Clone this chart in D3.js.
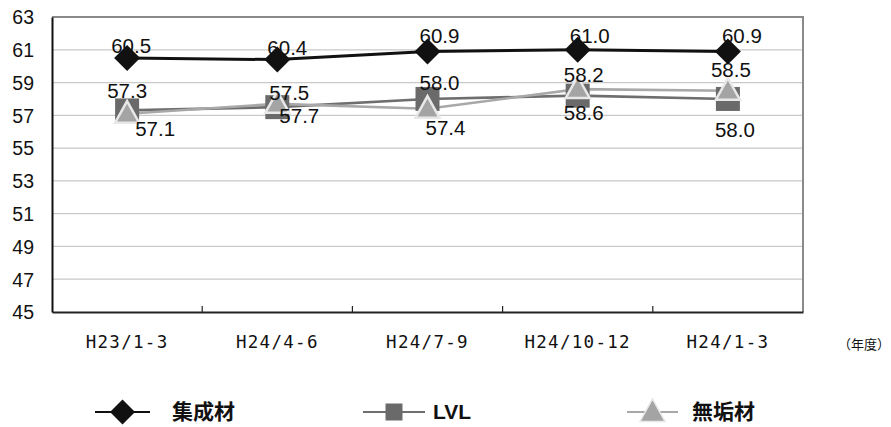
<!DOCTYPE html>
<html>
<head>
<meta charset="utf-8">
<script src="https://cdn.jsdelivr.net/npm/d3@7"></script>
<style>
  body { margin: 0; background: #fff; }
  svg { display: block; }
  .num { font-family: "Liberation Sans", Arial, sans-serif; font-size: 20.5px; fill: #111; }
  .ytick { font-family: "Liberation Sans", Arial, sans-serif; font-size: 19.5px; fill: #111; }
  .xtick { font-family: "DejaVu Sans Mono", monospace; font-size: 17.5px; fill: #111; letter-spacing: 1.3px; }
  .legend { font-family: "Noto Sans CJK JP", sans-serif; font-size: 21px; font-weight: bold; fill: #111; }
  .unit { font-family: "Noto Sans CJK JP", sans-serif; font-size: 13px; fill: #111; }
</style>
</head>
<body>
<div id="chart"></div>
<script>
const categories = ['H23/1-3', 'H24/4-6', 'H24/7-9', 'H24/10-12', 'H24/1-3']
const yTicks = [45, 47, 49, 51, 53, 55, 57, 59, 61, 63]

const shuseizai = [60.5, 60.4, 60.9, 61.0, 60.9]
const lvl = [57.3, 57.5, 58.0, 58.2, 58.0]
const mukuzai = [57.1, 57.7, 57.4, 58.6, 58.5]

// where each value label sits relative to its marker
const labelOffsets = {
    shuseizai: [[4, -5], [10, -5], [12, -8], [12, -7], [14, -8]],
    lvl: [[0, -12], [12, -7], [12, -9], [6, -14], [7, 38]],
    mukuzai: [[28, 22], [22, 19], [18, 26], [6, 31], [3, -14]]
}

const series = [
    { key: 'shuseizai', label: '集成材', values: shuseizai, line: '#111', fill: '#111', stroke: 'none', shape: 'diamond' },
    { key: 'lvl', label: 'LVL', values: lvl, line: '#6e6e6e', fill: '#6a6a6a', stroke: 'none', shape: 'square' },
    { key: 'mukuzai', label: '無垢材', values: mukuzai, line: '#a8a8a8', fill: '#a4a4a4', stroke: '#e8e8e8', shape: 'triangle' }
]

const width = 891, height = 427
const margin = { left: 52, right: 88, top: 17, bottom: 115 }

const svg = d3.select('#chart').append('svg')
    .attr('width', width)
    .attr('height', height)

const x = d3.scaleBand()
    .domain(categories)
    .range([margin.left, width - margin.right])

const y = d3.scaleLinear()
    .domain([45, 63])
    .range([height - margin.bottom, margin.top])

const x0 = margin.left, x1 = width - margin.right
const yTop = y(63), yBot = y(45)

// gridlines
svg.append('g').selectAll('line')
    .data(yTicks.filter(d => d > 45 && d < 63))
    .enter().append('line')
    .attr('x1', x0).attr('x2', x1)
    .attr('y1', d => y(d)).attr('y2', d => y(d))
    .style('stroke', '#c9c9c9')
    .style('stroke-width', 1.2)

// frame: top + right grey
svg.append('path')
    .attr('d', `M${x0},${yTop}H${x1}V${yBot}`)
    .style('fill', 'none')
    .style('stroke', '#8a8a8a')
    .style('stroke-width', 2)

// y axis
const yAxis = svg.append('g')
    .attr('transform', `translate(${x0},0)`)
    .call(d3.axisLeft(y).tickValues(yTicks).tickSize(0).tickPadding(18))
yAxis.select('.domain').style('stroke', '#111').style('stroke-width', 2)
yAxis.selectAll('text').attr('class', 'ytick').attr('dy', '0.35em')

// x axis
const xAxis = svg.append('g')
    .attr('transform', `translate(0,${yBot})`)
    .call(d3.axisBottom(x).tickSize(0).tickPadding(0))
xAxis.select('.domain').style('stroke', '#222').style('stroke-width', 2)
xAxis.selectAll('text').attr('class', 'xtick').attr('y', 36).attr('dy', 0)

// category separators
xAxis.selectAll('.sep')
    .data(categories.slice(1))
    .enter().append('line')
    .attr('class', 'sep')
    .attr('x1', d => x(d)).attr('x2', d => x(d))
    .attr('y1', 0).attr('y2', -6)
    .style('stroke', '#222')
    .style('stroke-width', 1.2)

svg.append('text')
    .attr('class', 'unit')
    .attr('x', 864)
    .attr('y', 349)
    .attr('text-anchor', 'middle')
    .text('（年度）')

const cx = d => x(d) + x.bandwidth() / 2

const symbolPath = (shape, s) => {
    if (shape === 'diamond') return `M0,${-s}L${s},0L0,${s}L${-s},0Z`
    if (shape === 'square') return `M${-s},${-s}H${s}V${s}H${-s}Z`
    return `M0,${-s * 1.05}L${s},${s * 0.75}H${-s}Z`
}

const line = d3.line()
    .x((d, i) => cx(categories[i]))
    .y(d => y(d))

series.forEach(s => {
    svg.append('path')
        .datum(s.values)
        .attr('d', line)
        .style('fill', 'none')
        .style('stroke', s.line)
        .style('stroke-width', s.key === 'shuseizai' ? 3 : 2.6)
})

const markerSize = { diamond: 13, square: 12, triangle: 12 }

series.forEach(s => {
    svg.append('g').selectAll('path')
        .data(s.values)
        .enter().append('path')
        .attr('transform', (d, i) => `translate(${cx(categories[i])},${y(d)})`)
        .attr('d', symbolPath(s.shape, markerSize[s.shape]))
        .style('fill', s.fill)
        .style('stroke', s.stroke)
        .style('stroke-width', 2.5)
})

// value labels
series.forEach(s => {
    svg.append('g').selectAll('text')
        .data(s.values)
        .enter().append('text')
        .attr('class', 'num')
        .attr('text-anchor', 'middle')
        .attr('x', (d, i) => cx(categories[i]) + labelOffsets[s.key][i][0])
        .attr('y', (d, i) => y(d) + labelOffsets[s.key][i][1])
        .text(d => d.toFixed(1))
})

// legend
const legendItems = [
    { s: series[0], lx: 95, lw: 55, tx: 172 },
    { s: series[1], lx: 363, lw: 62, tx: 433 },
    { s: series[2], lx: 627, lw: 51, tx: 692 }
]
const ly = 412

const legend = svg.append('g').selectAll('g')
    .data(legendItems)
    .enter().append('g')

legend.append('line')
    .attr('x1', d => d.lx).attr('x2', d => d.lx + d.lw)
    .attr('y1', ly).attr('y2', ly)
    .style('stroke', d => d.s.line)
    .style('stroke-width', 2)

legend.append('path')
    .attr('transform', d => `translate(${d.lx + d.lw / 2},${ly})`)
    .attr('d', d => symbolPath(d.s.shape, d.s.shape === 'square' ? 8.5 : 12.5))
    .style('fill', d => d.s.fill)
    .style('stroke', d => d.s.shape === 'triangle' ? '#e8e8e8' : 'none')
    .style('stroke-width', 1.5)

legend.append('text')
    .attr('class', 'legend')
    .attr('x', d => d.tx)
    .attr('y', ly)
    .attr('dy', '0.35em')
    .style('font-family', d => d.s.key === 'lvl' ? '"Liberation Sans", Arial, sans-serif' : null)
    .text(d => d.s.label)
</script>
</body>
</html>
